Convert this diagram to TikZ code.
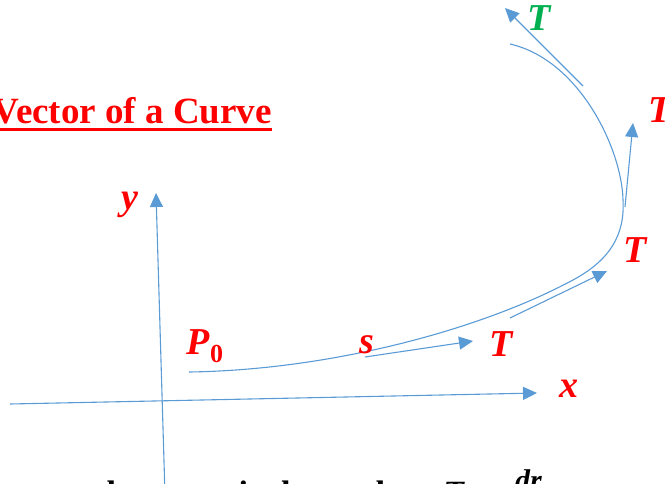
\documentclass[tikz,border=0pt]{standalone}
\usepackage{fontspec}
\setmainfont{Liberation Serif}
\usetikzlibrary{arrows.meta}
\definecolor{cblue}{HTML}{5B9BD5}
\definecolor{cred}{HTML}{FF0000}
\definecolor{cgreen}{HTML}{00B050}
\begin{document}
\begin{tikzpicture}[x=1pt,y=-1pt,
  ln/.style={draw=cblue,line width=1.1pt},
  arr/.style={ln,-{Triangle[length=14pt,width=13pt]}},
  lbl/.style={text=cred,font=\fontsize{38}{38}\selectfont\bfseries\itshape,inner sep=0pt},
  bot/.style={text=black,font=\fontsize{34}{34}\selectfont\bfseries,inner sep=0pt,anchor=base west}]
\useasboundingbox (0,0) rectangle (665,483);
\clip (0,0) rectangle (665,483);
% title
\node[text=cred,font=\fontsize{37}{37}\selectfont\bfseries,inner sep=0pt,anchor=base east] (title) at (272,123) {Vector of a Curve};
\draw[cred,line width=3pt] (0,129) -- (272,129);
% axes
\coordinate (xs) at (10,404);
\coordinate (xe) at (537,393);
\coordinate (ys) at (165,495);
\coordinate (ye) at (156,193);
\draw[arr] (xs) -- (xe);
\draw[arr] (ys) -- (ye);
\node[lbl] (xl) at (569,389) {x};
\node[lbl] (yl) at (130,205) {y};
% curve
\coordinate (c0) at (189,372);
\coordinate (c1) at (573,280);
\coordinate (c2) at (623,200);
\coordinate (c3) at (510,44);
\draw[ln] (c0) .. controls (330,370) and (480,330) .. (c1)
  .. controls (610,260) and (625,235) .. (c2)
  .. controls (622,150) and (580,60) .. (c3);
% tangent vectors
\coordinate (t1s) at (365,357); \coordinate (t1e) at (473,341);
\coordinate (t2s) at (510,318); \coordinate (t2e) at (607,271);
\coordinate (t3s) at (625,207); \coordinate (t3e) at (633,123);
\coordinate (t4s) at (583,86);  \coordinate (t4e) at (505,8);
\draw[arr] (t1s) -- (t1e);
\draw[arr] (t2s) -- (t2e);
\draw[arr] (t3s) -- (t3e);
\draw[arr] (t4s) -- (t4e);
% labels
\node[lbl] (p0) at (205,346) {P\raisebox{-8pt}{\fontsize{26}{26}\selectfont\upshape 0}};
\node[lbl] (sl) at (367,345) {s};
\node[lbl] (T1) at (501,344) {T};
\node[lbl] (T2) at (635,250) {T};
\node[lbl] (T3) at (660,110) {T};
\node[lbl,text=cgreen] (T4) at (539,18) {T};
% bottom text (cut off)
\node[bot] (b1) at (95,504) {the curve is the};
\node[bot] (b2) at (330,504) {and};
\node[bot,font=\fontsize{34}{34}\selectfont\bfseries\itshape] (b3) at (443,504) {T};
\node[bot] (b4) at (480,504) {=};
\node[bot,font=\fontsize{30}{30}\selectfont\bfseries\itshape] (b5) at (515,490) {dr};
\end{tikzpicture}
\end{document}
